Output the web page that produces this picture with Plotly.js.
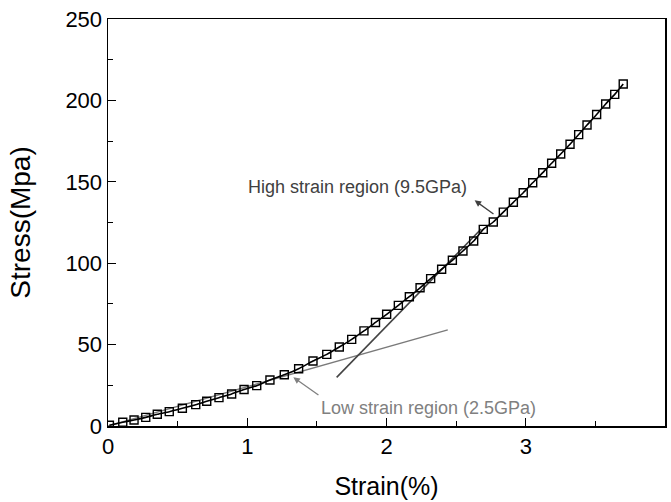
<!DOCTYPE html>
<html>
<head>
<meta charset="utf-8">
<script src="https://cdn.plot.ly/plotly-3.0.1.min.js"></script>
<style>html,body{margin:0;padding:0;background:#fff;}#chart{width:671px;height:502px;}</style>
</head>
<body>
<div id="chart"></div>
<script>
// Measured stress-strain data
var strain = [0.01, 0.106, 0.187, 0.271, 0.354, 0.440, 0.534, 0.630, 0.709, 0.797, 0.888, 0.977,
  1.068, 1.163, 1.266, 1.369, 1.472, 1.571, 1.661, 1.750, 1.838, 1.921, 2.001, 2.085, 2.164,
  2.241, 2.317, 2.396, 2.473, 2.549, 2.626, 2.695, 2.767, 2.839, 2.911, 2.982, 3.050, 3.122,
  3.186, 3.251, 3.318, 3.380, 3.440, 3.509, 3.574, 3.639, 3.700];
var stress = [0.5, 2.3, 3.7, 5.3, 7.2, 8.8, 10.9, 13.1, 15.2, 17.4, 19.7, 22.4,
  24.8, 28.3, 31.5, 35.2, 39.9, 44.0, 48.5, 53.2, 58.4, 63.6, 68.6, 74.1, 79.4,
  84.9, 90.5, 96.3, 101.8, 107.5, 113.6, 120.8, 125.3, 131.4, 137.4, 143.3, 149.4, 155.6,
  161.4, 167.1, 173.1, 179.0, 184.9, 191.3, 197.8, 203.7, 210.1];

// Tangent lines
var lowFitX = [0, 2.44];
var lowFitY = [0, 59];
var highFitX = [1.642, 2.68];
var highFitY = [29.9, 121];

// Tick values
var xTicks = [0, 1, 2, 3, 4];
var yTicks = [0, 50, 100, 150, 200, 250];

// Annotation texts
var highLabel = 'High strain region (9.5GPa)';
var lowLabel = 'Low strain region (2.5GPa)';

var font = 'Arial, "Liberation Sans", sans-serif';

var traces = [
  {x: lowFitX, y: lowFitY, mode: 'lines', line: {color: '#7a7a7a', width: 1.4}, hoverinfo: 'skip'},
  {x: highFitX, y: highFitY, mode: 'lines', line: {color: '#444444', width: 1.6}, hoverinfo: 'skip'},
  {x: strain, y: stress, mode: 'lines+markers',
   line: {color: '#000000', width: 1.6, shape: 'spline', smoothing: 0.6},
   marker: {symbol: 'square-open', size: 8, color: '#000000', line: {color: '#000000', width: 1.4}}}
];

var layout = {
  width: 671, height: 502,
  margin: {l: 108, r: 6, t: 19, b: 76},
  paper_bgcolor: '#ffffff', plot_bgcolor: '#ffffff',
  showlegend: false,
  font: {family: font, color: '#000000'},
  xaxis: {
    range: [0, 4], tickvals: xTicks, ticktext: xTicks.map(String),
    ticks: 'inside', ticklen: 8, tickwidth: 1.3, tickcolor: '#000',
    minor: {dtick: 0.5, tick0: 0, ticks: 'inside', ticklen: 5, tickwidth: 1.2, tickcolor: '#000'},
    showline: true, linecolor: '#000', linewidth: 1.5, mirror: true,
    showgrid: false, zeroline: false,
    tickfont: {size: 22, family: font, color: '#000'},
    title: {text: 'Strain(%)', font: {size: 25, family: font, color: '#000'}, standoff: 19}
  },
  yaxis: {
    range: [0, 250], tickvals: yTicks, ticktext: yTicks.map(String),
    ticks: 'inside', ticklen: 8, tickwidth: 1.3, tickcolor: '#000',
    minor: {dtick: 25, tick0: 0, ticks: 'inside', ticklen: 5, tickwidth: 1.2, tickcolor: '#000'},
    showline: true, linecolor: '#000', linewidth: 1.5, mirror: true,
    showgrid: false, zeroline: false,
    tickfont: {size: 22, family: font, color: '#000'},
    title: {text: 'Stress(Mpa)', font: {size: 28, family: font, color: '#000'}, standoff: 26}
  },
  annotations: [
    {x: 1.795, y: 147, xref: 'x', yref: 'y', text: highLabel, showarrow: false,
     font: {size: 18, family: font, color: '#404040'}},
    {x: 2.298, y: 11.1, xref: 'x', yref: 'y', text: lowLabel, showarrow: false,
     font: {size: 18, family: font, color: '#808080'}},
    {x: 2.633, y: 138.6, ax: 2.779, ay: 129.6, axref: 'x', ayref: 'y', xref: 'x', yref: 'y',
     text: '', showarrow: true, arrowhead: 2, arrowsize: 1, arrowwidth: 1.3, arrowcolor: '#404040'},
    {x: 1.331, y: 29.9, ax: 1.522, ay: 18.4, axref: 'x', ayref: 'y', xref: 'x', yref: 'y',
     text: '', showarrow: true, arrowhead: 2, arrowsize: 1, arrowwidth: 1.3, arrowcolor: '#808080'}
  ]
};

Plotly.newPlot('chart', traces, layout, {displayModeBar: false, staticPlot: true});
</script>
</body>
</html>
